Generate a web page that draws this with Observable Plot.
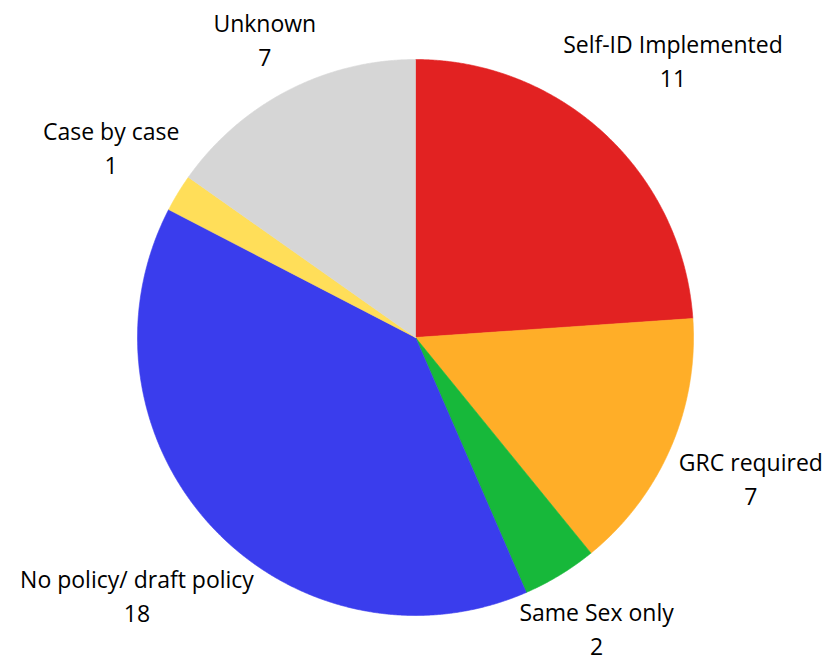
<!DOCTYPE html>
<html><head><meta charset="utf-8">
<script src="https://cdn.jsdelivr.net/npm/d3@7"></script>
<script src="https://cdn.jsdelivr.net/npm/@observablehq/plot@0.6"></script>
<style>body{margin:0;background:#fff}</style>
</head><body><div id="chart"></div>
<script>
const categories = ["Self-ID Implemented", "GRC required", "Same Sex only", "No policy/ draft policy", "Case by case", "Unknown"];
const values = [11, 7, 2, 18, 1, 7];
const colors = ["#E22222", "#FFAE28", "#17B83A", "#3A3DED", "#FFDE59", "#D6D6D6"];

const W = 824, H = 656, cx = 415, cy = 337, R = 278;
const fontSize = 23, lineGap = 34, fontFamily = "'Open Sans', Lato, sans-serif";

const slices = d3.pie().sort(null).value(d => d.value)(
  categories.map((c, i) => ({category: c, value: values[i]}))
);

// polygon outline of each slice, in unit-circle coordinates
const pts = [];
slices.forEach(s => {
  const c = s.data.category;
  const n = Math.max(2, Math.ceil((s.endAngle - s.startAngle) / 0.004));
  pts.push({category: c, x: 0, y: 0});
  for (let k = 0; k <= n; k++) {
    const a = s.startAngle + (s.endAngle - s.startAngle) * k / n;
    pts.push({category: c, x: Math.sin(a), y: Math.cos(a)});
  }
  pts.push({category: c, x: 0, y: 0});
});

// label placement: outside end, nearest box point at R + gap
const ctx = document.createElement("canvas").getContext("2d");
ctx.font = `${fontSize}px ${fontFamily}`;
const gap = 9;
const labels = slices.map(s => {
  const text = s.data.category + "\n" + s.data.value;
  const mid = (s.startAngle + s.endAngle) / 2;
  const ux = Math.sin(mid), uy = -Math.cos(mid);
  const w = Math.max(...text.split("\n").map(t => ctx.measureText(t).width)) / 2;
  const h = lineGap / 2 + fontSize * 0.4;
  const near = d => {
    const px = d * ux, py = d * uy;
    const nx = Math.max(px - w, Math.min(0, px + w));
    const ny = Math.max(py - h, Math.min(0, py + h));
    return Math.hypot(nx, ny);
  };
  let lo = 0, hi = 3 * R;
  for (let i = 0; i < 60; i++) {
    const m = (lo + hi) / 2;
    if (near(m) < R + gap) lo = m; else hi = m;
  }
  const d = (lo + hi) / 2;
  return {text, x: d * ux / R, y: -d * uy / R};
});

const chart = Plot.plot({
  width: W,
  height: H,
  x: {domain: [-1, 1], range: [cx - R, cx + R], axis: null},
  y: {domain: [-1, 1], range: [cy + R, cy - R], axis: null},
  color: {domain: categories, range: colors},
  style: {fontFamily, background: "#fff"},
  marks: [
    Plot.line(pts, {x: "x", y: "y", z: "category", fill: "category", stroke: "category", strokeWidth: 0.6, curve: "linear"}),
    Plot.text(labels, {x: "x", y: "y", dx: 2, dy: -5, text: "text", fontSize, lineHeight: lineGap / fontSize, lineAnchor: "middle", textAnchor: "middle", fill: "#000", fontFamily})
  ]
});
document.getElementById("chart").appendChild(chart);
</script>
</body></html>
